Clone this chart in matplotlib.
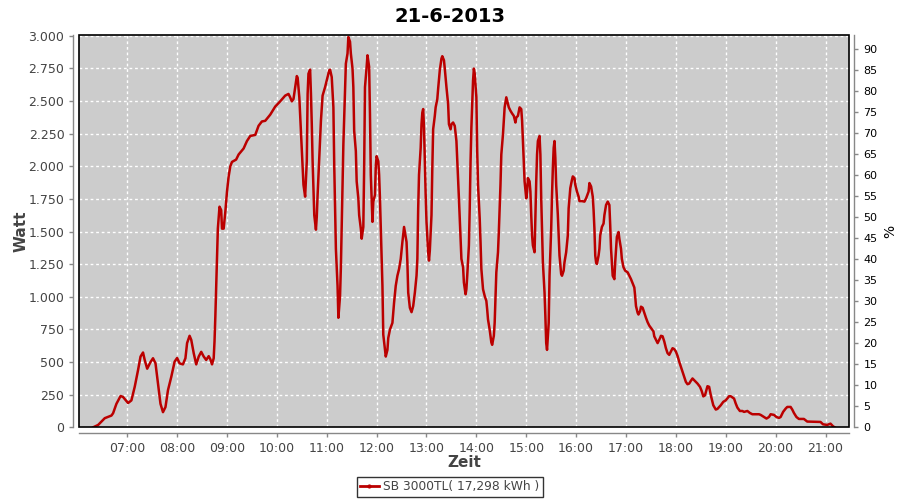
import matplotlib
matplotlib.use("Agg")
import matplotlib.pyplot as plt
from matplotlib.patches import Rectangle
from matplotlib.lines import Line2D

# readings of the inverter (time of day, watt)
times = [
    "06:19", "06:25", "06:33", "06:41", "06:43", "06:47", "06:52", "06:55", "07:01", "07:05",
    "07:09", "07:13", "07:16", "07:19", "07:21", "07:24", "07:28", "07:31", "07:34", "07:37",
    "07:40", "07:43", "07:46", "07:49", "07:53", "07:57", "08:00", "08:03", "08:07", "08:10",
    "08:12", "08:15", "08:17", "08:20", "08:23", "08:26", "08:29", "08:32", "08:35", "08:38",
    "08:40", "08:42", "08:44", "08:45", "08:46", "08:48", "08:49", "08:51", "08:53", "08:54",
    "08:56", "08:58", "09:00", "09:02", "09:04", "09:06", "09:11", "09:14", "09:20", "09:24",
    "09:28", "09:34", "09:38", "09:42", "09:46", "09:52", "09:58", "10:04", "10:10", "10:14",
    "10:16", "10:18", "10:20", "10:22", "10:24", "10:25", "10:27", "10:29", "10:31", "10:32",
    "10:34", "10:36", "10:37", "10:38", "10:40", "10:41", "10:42", "10:43", "10:45", "10:47",
    "10:48", "10:49", "10:51", "10:53", "10:55", "10:58", "11:00", "11:03", "11:04", "11:06",
    "11:08", "11:09", "11:10", "11:11", "11:13", "11:14", "11:16", "11:17", "11:18", "11:19",
    "11:20", "11:22", "11:23", "11:25", "11:26", "11:28", "11:29", "11:31", "11:32", "11:33",
    "11:35", "11:36", "11:38", "11:39", "11:41", "11:42", "11:44", "11:45", "11:46", "11:48",
    "11:49", "11:51", "11:52", "11:53", "11:55", "11:56", "11:58", "11:59", "12:00", "12:02",
    "12:03", "12:04", "12:05", "12:06", "12:07", "12:08", "12:10", "12:11", "12:13", "12:14",
    "12:16", "12:19", "12:21", "12:23", "12:25", "12:27", "12:29", "12:31", "12:33", "12:34",
    "12:36", "12:37", "12:38", "12:40", "12:42", "12:44", "12:46", "12:48", "12:49", "12:50",
    "12:51", "12:53", "12:54", "12:55", "12:56", "12:57", "12:58", "12:59", "13:00", "13:02",
    "13:03", "13:04", "13:06", "13:07", "13:08", "13:10", "13:11", "13:13", "13:14", "13:16",
    "13:18", "13:19", "13:21", "13:22", "13:24", "13:26", "13:27", "13:29", "13:30", "13:32",
    "13:34", "13:36", "13:38", "13:39", "13:40", "13:41", "13:42", "13:44", "13:45", "13:47",
    "13:48", "13:49", "13:51", "13:52", "13:53", "13:54", "13:56", "13:57", "13:58", "14:00",
    "14:01", "14:02", "14:04", "14:05", "14:06", "14:08", "14:10", "14:12", "14:13", "14:14",
    "14:16", "14:18", "14:19", "14:21", "14:22", "14:23", "14:24", "14:26", "14:27", "14:28",
    "14:29", "14:30", "14:32", "14:33", "14:34", "14:36", "14:37", "14:39", "14:41", "14:43",
    "14:45", "14:47", "14:48", "14:50", "14:52", "14:54", "14:55", "14:56", "14:57", "14:58",
    "15:00", "15:01", "15:02", "15:04", "15:05", "15:06", "15:07", "15:08", "15:10", "15:11",
    "15:12", "15:13", "15:14", "15:16", "15:17", "15:18", "15:19", "15:20", "15:22", "15:23",
    "15:24", "15:25", "15:26", "15:27", "15:28", "15:30", "15:31", "15:32", "15:33", "15:34",
    "15:35", "15:36", "15:38", "15:39", "15:40", "15:42", "15:43", "15:45", "15:46", "15:48",
    "15:50", "15:51", "15:53", "15:55", "15:56", "15:58", "15:59", "16:01", "16:03", "16:04",
    "16:07", "16:10", "16:12", "16:15", "16:16", "16:18", "16:20", "16:21", "16:22", "16:23",
    "16:24", "16:25", "16:27", "16:28", "16:29", "16:31", "16:33", "16:34", "16:36", "16:38",
    "16:40", "16:41", "16:42", "16:43", "16:44", "16:46", "16:47", "16:48", "16:49", "16:51",
    "16:52", "16:54", "16:55", "16:57", "16:59", "17:02", "17:04", "17:06", "17:08", "17:10",
    "17:11", "17:12", "17:14", "17:15", "17:17", "17:18", "17:20", "17:22", "17:24", "17:26",
    "17:28", "17:30", "17:33", "17:34", "17:36", "17:38", "17:39", "17:41", "17:42", "17:44",
    "17:46", "17:48", "17:50", "17:52", "17:54", "17:56", "17:58", "18:00", "18:02", "18:04",
    "18:06", "18:08", "18:10", "18:12", "18:14", "18:16", "18:18", "18:20", "18:22", "18:24",
    "18:26", "18:29", "18:31", "18:33", "18:35", "18:38", "18:40", "18:42", "18:45", "18:48",
    "18:50", "18:54", "18:57", "19:00", "19:04", "19:06", "19:10", "19:12", "19:14", "19:17",
    "19:20", "19:22", "19:26", "19:29", "19:32", "19:40", "19:42", "19:46", "19:49", "19:52",
    "19:54", "19:58", "20:01", "20:04", "20:06", "20:09", "20:12", "20:14", "20:18", "20:20",
    "20:22", "20:25", "20:28", "20:34", "20:38", "20:54", "20:57", "21:02", "21:06", "21:09",
    "21:11",
]
watt = [
    0, 18, 70, 90, 108, 180, 240, 232, 186, 206,
    310, 438, 542, 573, 516, 449, 500, 529, 490, 335,
    180, 116, 155, 284, 387, 503, 531, 490, 482, 529,
    645, 701, 670, 567, 482, 542, 578, 542, 516, 545,
    521, 482, 529, 658, 851, 1316, 1522, 1690, 1664, 1522,
    1522, 1651, 1806, 1922, 2000, 2033, 2051, 2090, 2136, 2193,
    2232, 2240, 2310, 2343, 2348, 2395, 2457, 2497, 2541, 2554,
    2528, 2497, 2515, 2606, 2691, 2678, 2528, 2258, 1987, 1858,
    1767, 2038, 2554, 2709, 2740, 2554, 2322, 2038, 1625, 1514,
    1612, 1780, 2064, 2348, 2541, 2606, 2657, 2735, 2740, 2683,
    2451, 2012, 1690, 1367, 1084, 839, 1006, 1226, 1535, 1871,
    2167, 2567, 2786, 2864, 2990, 2954, 2864, 2748, 2606, 2271,
    2116, 1884, 1754, 1625, 1522, 1445, 1535, 1987, 2606, 2761,
    2850, 2761, 2400, 1935, 1574, 1729, 1780, 2000, 2077, 2038,
    1935, 1754, 1535, 1316, 1084, 710, 593, 542, 593, 684,
    748, 800, 955, 1084, 1161, 1213, 1290, 1419, 1535, 1496,
    1419, 1264, 1032, 916, 882, 929, 1032, 1161, 1290, 1677,
    1935, 2141, 2322, 2412, 2438, 2296, 2038, 1780, 1574, 1341,
    1277, 1354, 1625, 1987, 2283, 2386, 2451, 2515, 2593, 2735,
    2825, 2843, 2812, 2748, 2606, 2477, 2322, 2283, 2322, 2335,
    2309, 2193, 1909, 1754, 1600, 1445, 1290, 1226, 1109, 1019,
    1058, 1161, 1393, 1677, 2038, 2296, 2657, 2748, 2709, 2528,
    2116, 1858, 1600, 1419, 1213, 1058, 1006, 968, 903, 826,
    748, 650, 632, 701, 800, 1006, 1187, 1341, 1496, 1677,
    1858, 2090, 2245, 2348, 2451, 2528, 2502, 2451, 2425, 2404,
    2386, 2335, 2373, 2386, 2451, 2438, 2348, 2193, 2038, 1884,
    1754, 1806, 1909, 1884, 1806, 1625, 1471, 1393, 1341, 1625,
    1884, 2090, 2193, 2232, 2090, 1754, 1522, 1264, 1032, 851,
    645, 593, 696, 800, 1161, 1522, 1780, 1987, 2141, 2193,
    2064, 1858, 1625, 1471, 1316, 1174, 1161, 1200, 1264, 1341,
    1471, 1677, 1832, 1896, 1922, 1909, 1858, 1806, 1767, 1733,
    1733, 1729, 1754, 1806, 1871, 1845, 1767, 1664, 1522, 1316,
    1264, 1251, 1316, 1367, 1471, 1535, 1561, 1625, 1703, 1729,
    1703, 1548, 1367, 1264, 1161, 1135, 1264, 1367, 1458, 1496,
    1445, 1367, 1290, 1226, 1200, 1187, 1161, 1135, 1104, 1071,
    1006, 929, 877, 864, 890, 924, 916, 877, 839, 805,
    779, 761, 735, 697, 671, 645, 658, 684, 701, 697,
    658, 606, 568, 555, 580, 606, 599, 580, 547, 503,
    464, 426, 387, 348, 330, 335, 356, 374, 361, 348,
    335, 310, 279, 237, 245, 315, 310, 246, 169, 136,
    141, 169, 195, 207, 238, 238, 220, 182, 151, 125,
    125, 118, 125, 110, 100, 100, 95, 79, 67, 79,
    100, 95, 79, 72, 79, 118, 143, 156, 156, 136,
    110, 79, 64, 64, 44, 41, 23, 18, 28, 8,
    0,
]

hour_ticks = list(range(7, 22))
watt_ticks = list(range(0, 3001, 250))
pct_ticks = list(range(0, 91, 5))
legend_label = "SB 3000TL( 17,298 kWh )"

hours = [int(t[:2]) + int(t[3:]) / 60 for t in times]

txt = "#444444"
fig = plt.figure(figsize=(9, 5), dpi=100)
ax = fig.add_axes([0.0878, 0.1454, 0.8553, 0.7852])
ax.set_facecolor("#CCCCCC")

ax.plot(hours, watt, color="#BB0000", lw=1.8)

ax.set_xlim(6 + 2 / 60, 21 + 28 / 60)
ax.set_ylim(0, 3007.7)
ax.set_xticks(hour_ticks)
ax.set_xticklabels([f"{h:02d}:00" for h in hour_ticks])
ax.set_yticks(watt_ticks)
ax.set_yticklabels([f"{v:,}".replace(",", ".") for v in watt_ticks])
ax.grid(True, color="white", ls=(0, (2, 2)), lw=1)
ax.set_axisbelow(True)

ax2 = ax.twinx()
ax2.set_ylim(0, 93.5)
ax2.set_yticks(pct_ticks)

for a in (ax, ax2):
    for s in a.spines.values():
        s.set_color("#888888")
        s.set_linewidth(1)
    a.tick_params(colors="#888888", labelcolor=txt, labelsize=9, length=3, width=1)
ax.spines["top"].set_visible(False)
ax.spines["right"].set_visible(False)
ax.spines["left"].set_position(("outward", 4))
ax.spines["bottom"].set_position(("outward", 4))
ax2.spines["top"].set_visible(False)
ax2.spines["left"].set_visible(False)
ax2.spines["bottom"].set_visible(False)
ax2.spines["right"].set_position(("outward", 4))
ax2.tick_params(labelcolor="black", labelsize=8)

# black outline of the plot area
ax.add_patch(Rectangle((0, 0), 1, 1, transform=ax.transAxes, fill=False,
                       edgecolor="black", lw=1.2, clip_on=False, zorder=5))

ax.set_xlabel("Zeit", fontsize=11, color=txt, fontweight="bold", labelpad=0)
ax.set_ylabel("Watt", fontsize=11, color=txt, fontweight="bold", labelpad=0)
ax2.set_ylabel("%", fontsize=10, color="black", labelpad=4)

fig.suptitle("21-6-2013", fontsize=14, fontweight="bold", y=0.985)

handle = Line2D([], [], color="#BB0000", lw=2, marker=".", markersize=4)
leg = fig.legend([handle], [legend_label], loc="lower center", bbox_to_anchor=(0.5, -0.006),
                 fontsize=8.8, frameon=True, fancybox=False, handlelength=1.5,
                 borderpad=0.3, handletextpad=0.4, labelcolor=txt)
leg.get_frame().set_edgecolor("black")
leg.get_frame().set_linewidth(1)

fig.savefig("out.png", dpi=100)
